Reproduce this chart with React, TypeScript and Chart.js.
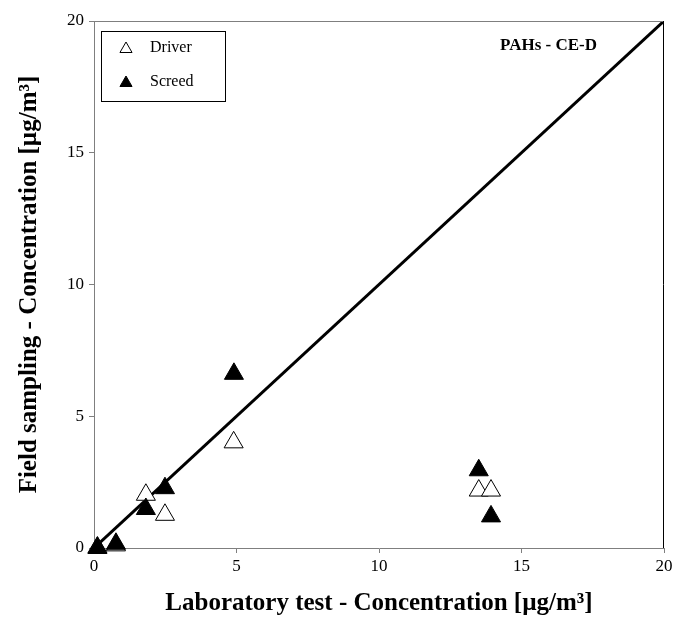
import React, { useEffect, useRef } from "react";
import { Chart, registerables } from "chart.js";

Chart.register(...registerables);

const driverX = [4.9, 1.82, 2.49, 0.77, 0.12, 13.5, 13.93];
const driverY = [4.01, 2.02, 1.26, 0.1, 0.02, 2.18, 2.18];
const screedX = [4.91, 2.49, 1.82, 0.77, 0.12, 13.5, 13.93];
const screedY = [6.61, 2.27, 1.48, 0.16, 0.0, 2.95, 1.2];
const lineX = [0, 20];
const lineY = [0, 20];
const axisMin = 0;
const axisMax = 20;
const tickStep = 5;
const seriesNames = ["Driver", "Screed"];
const chartLabel = "PAHs - CE-D";
const xTitle = "Laboratory test - Concentration [µg/m³]";
const yTitle = "Field sampling - Concentration [µg/m³]";

const FONT = "'Liberation Serif', 'Times New Roman', serif";

const pts = (xs: number[], ys: number[]) => xs.map((x, i) => ({ x, y: ys[i] }));

function tri(ctx: CanvasRenderingContext2D, cx: number, cy: number, r: number, filled: boolean) {
  ctx.beginPath();
  ctx.moveTo(cx, cy - r);
  ctx.lineTo(cx + (Math.sqrt(3) / 2) * r, cy + r / 2);
  ctx.lineTo(cx - (Math.sqrt(3) / 2) * r, cy + r / 2);
  ctx.closePath();
  ctx.fillStyle = filled ? "#000" : "#fff";
  ctx.fill();
  ctx.strokeStyle = "#000";
  ctx.lineWidth = 1;
  ctx.stroke();
}

const overlay = {
  id: "overlay",
  afterDraw(chart: any) {
    const ctx = chart.ctx as CanvasRenderingContext2D;
    const a = chart.chartArea;
    ctx.save();
    ctx.lineWidth = 1;
    ctx.strokeStyle = "#7f7f7f";
    ctx.beginPath();
    ctx.moveTo(a.left, a.top + 0.5);
    ctx.lineTo(a.right, a.top + 0.5);
    ctx.stroke();
    ctx.strokeStyle = "#000";
    ctx.beginPath();
    ctx.moveTo(a.right - 0.5, a.top);
    ctx.lineTo(a.right - 0.5, a.bottom);
    ctx.stroke();
    // legend box
    const bx = 101, by = 31, bw = 124, bh = 70;
    ctx.strokeStyle = "#000";
    ctx.strokeRect(bx + 0.5, by + 0.5, bw, bh);
    ctx.font = `16px ${FONT}`;
    ctx.textBaseline = "middle";
    ctx.textAlign = "left";
    const rows = [48, 82];
    seriesNames.forEach((name, i) => {
      tri(ctx, 126, rows[i] + 1, 7, i === 1);
      ctx.fillStyle = "#000";
      ctx.fillText(name, 150, rows[i]);
    });
    ctx.font = `bold 17px ${FONT}`;
    ctx.textAlign = "right";
    ctx.fillStyle = "#000";
    ctx.fillText(chartLabel, 597, 46);
    ctx.restore();
  },
};

export default function App() {
  const ref = useRef<HTMLCanvasElement>(null);
  useEffect(() => {
    if (!ref.current) return;
    const tickFont = { family: FONT, size: 17 };
    const titleFont = { family: FONT, size: 25, weight: "bold" as const };
    const chart = new Chart(ref.current, {
      type: "scatter",
      data: {
        datasets: [
          {
            type: "line",
            label: "line",
            data: pts(lineX, lineY),
            borderColor: "#000",
            borderWidth: 3,
            pointRadius: 0,
            order: 3,
          } as any,
          {
            label: seriesNames[0],
            data: pts(driverX, driverY),
            pointStyle: "triangle",
            pointRadius: 11,
            backgroundColor: "#fff",
            borderColor: "#000",
            borderWidth: 1,
            order: 2,
            clip: false,
          } as any,
          {
            label: seriesNames[1],
            data: pts(screedX, screedY),
            pointStyle: "triangle",
            pointRadius: 11,
            backgroundColor: "#000",
            borderColor: "#000",
            borderWidth: 1,
            order: 1,
            clip: false,
          } as any,
        ],
      },
      options: {
        responsive: false,
        animation: false,
        events: [],
        layout: { padding: { top: 21, right: 26, left: 0, bottom: 0 } },
        plugins: { legend: { display: false }, tooltip: { enabled: false } },
        scales: {
          x: {
            type: "linear",
            min: axisMin,
            max: axisMax,
            afterFit: (s: any) => { s.height = 77; },
            ticks: { stepSize: tickStep, font: tickFont, color: "#000", padding: 3 },
            grid: { display: true, drawOnChartArea: false, drawTicks: true, tickLength: 5, color: "#7f7f7f" },
            border: { display: true, color: "#7f7f7f", width: 1 },
            title: { display: true, text: xTitle, font: titleFont, color: "#000", padding: { bottom: 6 } },
          },
          y: {
            type: "linear",
            min: axisMin,
            max: axisMax,
            afterFit: (s: any) => { s.width = 94; },
            ticks: { stepSize: tickStep, font: tickFont, color: "#000", padding: 5 },
            grid: { display: true, drawOnChartArea: false, drawTicks: true, tickLength: 5, color: "#7f7f7f" },
            border: { display: true, color: "#7f7f7f", width: 1 },
            title: { display: true, text: yTitle, font: titleFont, color: "#000", padding: { top: 15 } },
          },
        },
      },
      plugins: [overlay],
    });
    return () => chart.destroy();
  }, []);
  return (
    <div style={{ position: "absolute", left: 0, top: 0, width: 690, height: 625, background: "#fff" }}>
      <canvas ref={ref} width={690} height={625} />
    </div>
  );
}
